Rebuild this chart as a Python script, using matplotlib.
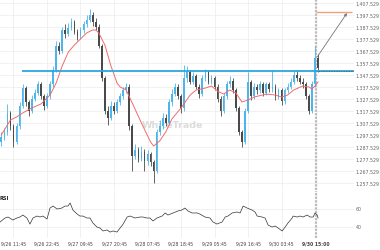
import matplotlib
matplotlib.use("Agg")
import matplotlib.pyplot as plt
import numpy as np

# ---------------- data ----------------
# hourly candles, hour offsets relative to 9/26 11:45
candle_hours = list(range(-4, 101))
first_open = 1292
closes = [
    1296, 1300, 1316, 1305,
    1292, 1305, 1322, 1337, 1325, 1318, 1328, 1333, 1340, 1330,
    1322, 1330, 1340, 1352, 1372, 1368, 1385, 1382, 1387, 1392,
    1384, 1380, 1385, 1390, 1394, 1398, 1392, 1388, 1372, 1345,
    1318, 1312, 1322, 1318, 1325, 1330, 1335, 1338, 1305, 1280,
    1285, 1278, 1284, 1276, 1282, 1275, 1268, 1300, 1305, 1312,
    1308, 1325, 1332, 1338, 1330, 1320, 1345, 1350, 1342, 1347,
    1338, 1332, 1345, 1350, 1342, 1345, 1338, 1328, 1318, 1330,
    1340, 1343, 1335, 1320, 1300, 1292, 1318, 1342, 1330, 1338,
    1335, 1340, 1333, 1340, 1336, 1338, 1330, 1335, 1326, 1335,
    1338, 1342, 1348, 1345, 1342, 1340, 1330, 1318, 1340, 1362,
    1354]
highs = [
    1300, 1304, 1324, 1318,
    1307, 1308, 1325, 1340, 1339, 1327, 1331, 1336, 1343, 1342,
    1332, 1333, 1343, 1355, 1376, 1375, 1388, 1390, 1391, 1395,
    1394, 1386, 1388, 1393, 1398, 1403, 1400, 1395, 1390, 1374,
    1347, 1322, 1326, 1325, 1328, 1333, 1338, 1341, 1340, 1307,
    1290, 1288, 1289, 1286, 1285, 1284, 1277, 1303, 1310, 1316,
    1315, 1328, 1336, 1341, 1340, 1332, 1356, 1355, 1352, 1350,
    1349, 1340, 1348, 1353, 1352, 1348, 1347, 1340, 1330, 1333,
    1343, 1347, 1345, 1337, 1322, 1302, 1320, 1350, 1344, 1341,
    1340, 1343, 1342, 1342, 1342, 1352, 1340, 1337, 1337, 1337,
    1341, 1345, 1351, 1352, 1348, 1345, 1342, 1332, 1343, 1372,
    1365]
lows = [
    1289, 1294, 1298, 1302,
    1288, 1290, 1303, 1320, 1322, 1314, 1316, 1326, 1331, 1328,
    1319, 1320, 1328, 1338, 1350, 1365, 1366, 1379, 1380, 1385,
    1382, 1377, 1378, 1383, 1388, 1392, 1389, 1385, 1370, 1343,
    1315, 1306, 1310, 1315, 1316, 1323, 1328, 1333, 1302, 1268,
    1278, 1275, 1276, 1268, 1273, 1272, 1258, 1266, 1298, 1303,
    1305, 1306, 1322, 1330, 1328, 1316, 1318, 1342, 1340, 1340,
    1336, 1329, 1330, 1343, 1340, 1340, 1335, 1325, 1314, 1316,
    1328, 1338, 1333, 1318, 1298, 1288, 1290, 1316, 1327, 1328,
    1332, 1333, 1330, 1331, 1334, 1334, 1327, 1328, 1323, 1324,
    1333, 1336, 1340, 1343, 1340, 1337, 1328, 1315, 1316, 1338,
    1350]

ma_hours = [-4, -1, 1, 3, 6, 9, 12, 14, 16, 18, 20, 22, 24, 26, 27, 28, 30, 32,
            34, 35, 37, 39, 42, 45, 46, 48, 50, 52, 55, 58, 60, 63, 65, 67, 69,
            71, 73, 75, 77, 79, 83, 86, 88, 90, 92, 95, 97, 98, 99, 100]
ma_values = [1297.8, 1310.3, 1312.8, 1316.1, 1320.3, 1323.6, 1331.1, 1341.1,
             1355.3, 1366.9, 1372.8, 1377.8, 1382.8, 1385.3, 1385.3, 1382.8,
             1372.8, 1355.3, 1341.1, 1337.8, 1335.3, 1324.4, 1307.8, 1292.0,
             1288.6, 1292.8, 1300.3, 1311.1, 1320.3, 1331.1, 1335.3, 1336.9,
             1338.6, 1334.4, 1331.9, 1335.3, 1332.8, 1325.3, 1326.9, 1329.4,
             1331.9, 1331.1, 1329.4, 1331.1, 1335.3, 1338.6, 1337.8, 1336.1,
             1338.6, 1342.0]

rsi_hours = [-4.4, -2.8, -1.8, -0.2, 1.1, 2.1, 3.1, 4.4, 5.4, 6.4, 7.7, 8.7, 9.7,
             11.0, 12.0, 13.0, 14.3, 15.9, 16.9, 17.9, 18.6, 19.5, 20.9, 21.8,
             22.8, 24.1, 25.1, 26.1, 27.4, 28.4, 29.4, 30.7, 31.7, 32.7, 34.0,
             35.0, 36.0, 37.3, 38.3, 39.9, 41.5, 42.5, 43.8, 44.8, 45.8, 47.1,
             48.8, 49.8, 50.7, 52.4, 54.0, 55.3, 56.3, 57.3, 58.6, 60.3, 61.2,
             62.9, 64.5, 65.5, 66.8, 68.5, 69.5, 70.4, 71.8, 73.4, 74.4, 75.4,
             76.7, 78.3, 79.3, 80.0, 81.6, 82.6, 83.6, 84.9, 85.9, 86.9, 88.2,
             89.2, 90.1, 91.5, 91.8, 93.1, 94.1, 95.1, 96.4, 97.4, 98.4, 99.0,
             99.7, 100.0]
rsi_values = [45.6, 50.0, 51.1, 47.8, 50.0, 51.1, 53.3, 50.0, 43.3, 50.0, 52.2,
              51.1, 52.2, 48.9, 61.1, 63.3, 60.0, 61.1, 63.3, 63.3, 66.7, 58.9,
              54.4, 52.2, 52.2, 50.0, 50.0, 44.4, 40.0, 38.9, 35.6, 36.7, 34.4,
              35.6, 34.4, 38.9, 43.3, 51.1, 52.2, 50.0, 51.1, 51.1, 50.0, 50.0,
              46.7, 50.0, 52.2, 55.6, 53.3, 55.6, 57.8, 58.9, 61.1, 57.8, 55.6,
              55.6, 54.4, 51.1, 50.0, 45.6, 43.3, 45.6, 51.1, 52.2, 55.6, 56.7,
              55.6, 63.3, 61.1, 58.9, 56.7, 52.2, 51.1, 50.0, 42.2, 40.0, 41.1,
              38.9, 35.6, 40.0, 44.4, 50.0, 52.2, 51.1, 52.2, 51.1, 53.3, 51.1,
              51.1, 55.6, 53.3, 50.0]

tick_hours = [0, 11, 22, 33, 44, 55, 66, 77, 88, 99.25]
tick_labels = ["9/26 11:45", "9/26 22:45", "9/27 09:45", "9/27 20:45",
               "9/28 07:45", "9/28 18:45", "9/29 05:45", "9/29 16:45",
               "9/30 03:45", "9/30 15:00"]
price_levels = [1257.529, 1267.529, 1277.529, 1287.529, 1297.529, 1307.529,
                1317.529, 1327.529, 1337.529, 1347.529, 1357.529, 1367.529,
                1377.529, 1387.529, 1397.529, 1407.529]
rsi_levels = [40, 60]

resistance_level = 1351.5
resistance_start = 2.8
target_level = 1400.0
now_hour = 99.25
arrow_start = (99.7, 1362.8)
arrow_end = (109.5, 1399.4)
watermark = "WhiteTrade"

# ---------------- figure ----------------
W, H = 380, 250
fig = plt.figure(figsize=(W / 100, H / 100), dpi=100)
right = 354 / W
ax = fig.add_axes([0, 1 - 190 / H, right, 190 / H])
ax2 = fig.add_axes([0, 1 - 238 / H, right, 47 / H])

xmin, xmax = -4.43, 111.8
grid_c = "#ececec"
for a in (ax, ax2):
    a.set_xlim(xmin, xmax)
    for s in a.spines.values():
        s.set_visible(False)
    a.set_xticks(tick_hours)
    a.grid(True, color=grid_c, linewidth=0.5)
    a.set_axisbelow(True)
    a.tick_params(length=0)

ax.set_ylim(1251.95, 1410.28)
ax.set_yticks(price_levels)
ax.set_yticklabels([f"{v:,.3f}" for v in price_levels])
ax.yaxis.tick_right()
ax.tick_params(axis="y", labelsize=3.4, labelcolor="#666666", pad=1.4)
ax.tick_params(axis="x", labelbottom=False)

ax2.set_ylim(27.8, 80)
ax2.set_yticks(rsi_levels)
ax2.set_yticklabels([str(v) for v in rsi_levels])
ax2.yaxis.tick_right()
ax2.tick_params(axis="y", labelsize=3.4, labelcolor="#666666", pad=1.4)
ax2.set_xticklabels(tick_labels)
ax2.tick_params(axis="x", labelsize=3.3, labelcolor="#444444", pad=2.2)
for lbl in ax2.get_xticklabels():
    if lbl.get_text() == "9/30 15:00":
        lbl.set_fontweight("bold")

# watermark (center near pixel x=172, y=126)
ax.text(172 / 354, 1 - 126 / 190, watermark, transform=ax.transAxes,
        fontsize=6.8, color="#dcdcdc", ha="center", va="center",
        fontweight="bold", zorder=1)

# candles
opens = [first_open] + closes[:-1]
up_c, dn_c = "#4db5ea", "#4a4a4a"
for h, o, hi, lo, c in zip(candle_hours, opens, highs, lows, closes):
    col = up_c if c >= o else dn_c
    ax.vlines(h, lo, hi, color=col, linewidth=0.6, zorder=3)
    ax.bar(h, max(abs(c - o), 0.6), bottom=min(o, c), width=0.55,
           color=col, linewidth=0, zorder=3)

# moving average
ax.plot(ma_hours, ma_values, color="#f26b6b", linewidth=0.7, zorder=4)

# resistance line
ax.hlines(resistance_level, resistance_start, xmax, color="#2aa7df",
          linewidth=1.3, zorder=5)
ax.hlines(resistance_level, arrow_start[0], xmax, color="#555555",
          linewidth=0.6, linestyles=(0, (1, 1)), zorder=6)
# target line
ax.hlines(target_level, now_hour, xmax - 0.6, color="#f5a07a", linewidth=1.0,
          zorder=5)
ax.annotate("", xy=arrow_end, xytext=arrow_start,
            arrowprops=dict(arrowstyle="-|>", color="#777777", lw=0.6,
                            mutation_scale=4, shrinkA=0, shrinkB=0), zorder=6)

# current time line
for a in (ax, ax2):
    a.axvline(now_hour, color="#bbbbbb", linewidth=1.6,
              linestyle=(0, (1, 0.6)), zorder=2)

# RSI
ax2.plot(rsi_hours, rsi_values, color="#333333", linewidth=0.5, zorder=4)
fig.text(-1 / W, 1 - 199 / H, "RSI", fontsize=3.6, fontweight="bold",
         color="#222222", ha="left", va="center")

fig.savefig("out.png", dpi=100)
